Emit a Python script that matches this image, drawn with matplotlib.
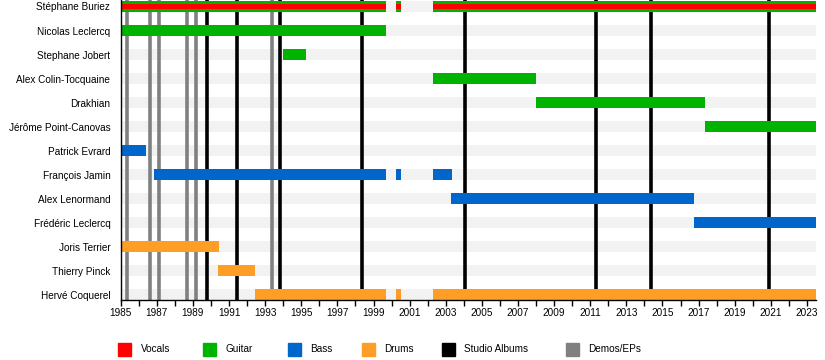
"""Loudblast member timeline, easytimeline style."""
import matplotlib.pyplot as plt
from matplotlib.patches import Rectangle

plt.rcParams['font.family'] = ['Liberation Sans', 'DejaVu Sans']

members = ["Stéphane Buriez", "Nicolas Leclercq", "Stephane Jobert",
           "Alex Colin-Tocquaine", "Drakhian", "Jérôme Point-Canovas",
           "Patrick Evrard", "François Jamin", "Alex Lenormand",
           "Frédéric Leclercq", "Joris Terrier", "Thierry Pinck",
           "Hervé Coquerel"]

END = 2023.5

# (member, role, start, end)
periods = [
    ("Stéphane Buriez", "Guitar", 1985.0, 1999.68),
    ("Stéphane Buriez", "Guitar", 2000.24, 2000.5),
    ("Stéphane Buriez", "Guitar", 2002.3, END),
    ("Nicolas Leclercq", "Guitar", 1985.0, 1999.68),
    ("Stephane Jobert", "Guitar", 1993.97, 1995.25),
    ("Alex Colin-Tocquaine", "Guitar", 2002.28, 2008.0),
    ("Drakhian", "Guitar", 2008.0, 2017.35),
    ("Jérôme Point-Canovas", "Guitar", 2017.35, END),
    ("Patrick Evrard", "Bass", 1985.0, 1986.4),
    ("François Jamin", "Bass", 1986.84, 1999.68),
    ("François Jamin", "Bass", 2000.24, 2000.5),
    ("François Jamin", "Bass", 2002.3, 2003.33),
    ("Alex Lenormand", "Bass", 2003.3, 2016.73),
    ("Frédéric Leclercq", "Bass", 2016.73, END),
    ("Joris Terrier", "Drums", 1985.0, 1990.44),
    ("Thierry Pinck", "Drums", 1990.4, 1992.43),
    ("Hervé Coquerel", "Drums", 1992.43, 1999.68),
    ("Hervé Coquerel", "Drums", 2000.24, 2000.5),
    ("Hervé Coquerel", "Drums", 2002.3, END),
]
# secondary role drawn as a thin bar inside
vocals = [
    ("Stéphane Buriez", 1985.0, 1999.68),
    ("Stéphane Buriez", 2000.24, 2000.5),
    ("Stéphane Buriez", 2002.3, END),
]

studio_albums = [1989.79, 1991.45, 1993.8, 1998.37, 2004.08, 2011.34,
                 2014.36, 2020.89]
demos_eps = [1985.37, 1986.64, 1987.14, 1988.65, 1989.15, 1993.39]

colors = {"Vocals": "#ff0000", "Guitar": "#00b300", "Bass": "#0066cc",
          "Drums": "#ff9e26", "Studio Albums": "#000000",
          "Demos/EPs": "#808080"}

fig = plt.figure(figsize=(8.25, 3.6), dpi=100)
ax = fig.add_axes([120.7 / 825, 60 / 360, (816 - 120.7) / 825, 300 / 360])

row = {m: i for i, m in enumerate(members)}
h = 0.46

# light background stripes for every row
for m in members:
    ax.barh(row[m], END - 1985, left=1985, height=h, color="#f2f2f2",
            zorder=1)

for x in studio_albums:
    ax.axvline(x, color=colors["Studio Albums"], lw=2.6, zorder=2)
for x in demos_eps:
    ax.axvline(x, color=colors["Demos/EPs"], lw=2.6, zorder=2)

for m, role, s, e in periods:
    ax.barh(row[m], e - s, left=s, height=h, color=colors[role], zorder=3)
for m, s, e in vocals:
    ax.barh(row[m], e - s, left=s, height=0.17, color=colors["Vocals"],
            zorder=4)

ax.set_xlim(1985, END)
ax.set_ylim(12.21, -0.27)
ax.set_yticks(range(len(members)))
ax.set_yticklabels(members, fontsize=7.2)
ax.tick_params(axis="y", length=0, pad=7.5)
ax.set_xticks(range(1985, 2024, 2))
ax.set_xticks(range(1985, 2024), minor=True)
ax.tick_params(axis="x", which="both", length=4, width=1, labelsize=7.2,
               pad=2)
for side in ("top", "right"):
    ax.spines[side].set_visible(False)
ax.spines["left"].set_linewidth(1)
ax.spines["bottom"].set_linewidth(1)
ax.spines["left"].set_zorder(5)
ax.spines["bottom"].set_zorder(5)

# legend row at the bottom, in figure pixel coordinates
lax = fig.add_axes([0, 0, 1, 1], facecolor="none")
lax.set_xlim(0, 825)
lax.set_ylim(360, 0)
lax.axis("off")
legend_items = [("Vocals", 118, 141), ("Guitar", 203, 225),
                ("Bass", 288, 310), ("Drums", 362, 384),
                ("Studio Albums", 442, 464), ("Demos/EPs", 566, 588)]
for name, sx, tx in legend_items:
    lax.add_patch(Rectangle((sx, 343), 12.5, 12.5, color=colors[name]))
    lax.text(tx, 349.5, name, fontsize=7.2, va="center", ha="left")

fig.savefig("out.png", dpi=100)
